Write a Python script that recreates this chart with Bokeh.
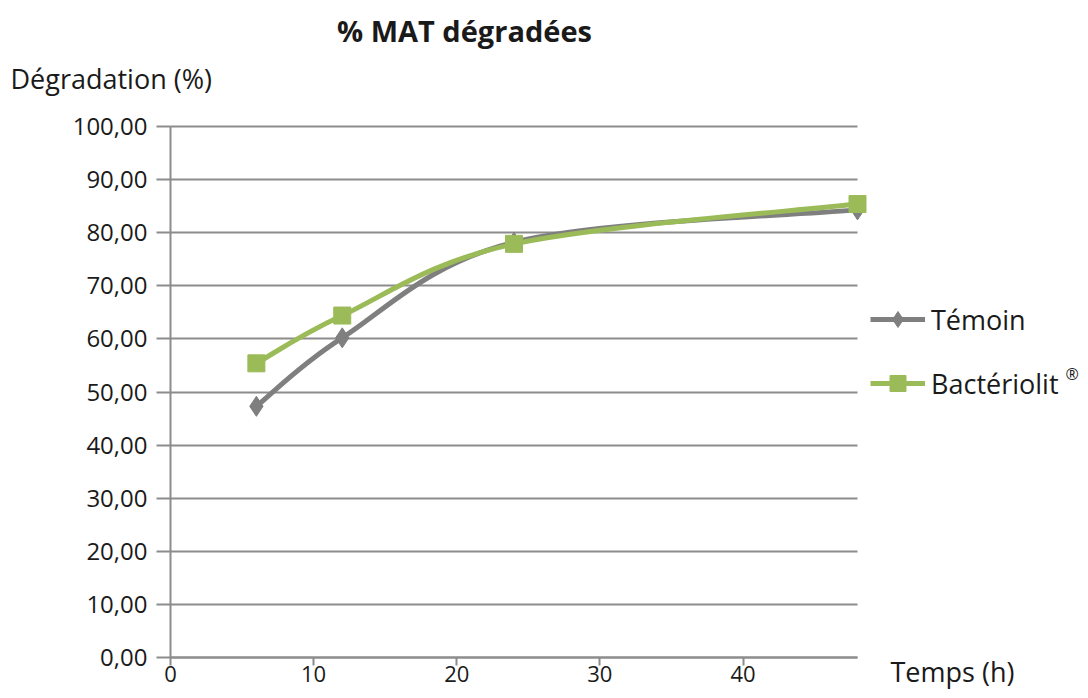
from bokeh.plotting import figure
from bokeh.models import Label, Legend, LegendItem, Range1d, FixedTicker
from bokeh.embed import file_html
from bokeh.resources import INLINE

# ---- data ----
hours = [6, 12, 24, 48]
temoin = [47.3, 60.2, 78.2, 84.3]
bacteriolit = [55.4, 64.4, 77.9, 85.4]
y_ticks = [0, 10, 20, 30, 40, 50, 60, 70, 80, 90, 100]
x_ticks = [0, 10, 20, 30, 40]
x_max = 48
y_max = 100
title_text = "% MAT dégradées"
y_title = "Dégradation (%)"
x_title = "Temps (h)"
series_names = ["Témoin", "Bactériolit"]

GRAY = "#7f7f7f"
GREEN = "#9bbb59"
GRID = "#8c8c8c"
TXT = "#1a1a1a"
FONT = "Open Sans"

# ---- layout (canvas pixels) ----
W, H = 1080, 690
PX_L, PX_R, PX_T, PX_B = 170, 857, 126, 657   # plot area edges
sx = (PX_R - PX_L) / x_max
sy = (PX_B - PX_T) / y_max
x0 = -PX_L / sx
y0 = -(H - PX_B) / sy

p = figure(width=W, height=H, output_backend="svg", toolbar_location=None,
           x_range=Range1d(x0, x0 + W / sx), y_range=Range1d(y0, y0 + H / sy),
           min_border=0)
p.outline_line_color = None

# axes placed inside the frame at 0
p.xaxis.ticker = FixedTicker(ticks=x_ticks)
p.yaxis.ticker = FixedTicker(ticks=y_ticks)
p.yaxis.major_label_overrides = {t: f"{t:.2f}".replace(".", ",") for t in y_ticks}
p.xaxis.fixed_location = 0
p.yaxis.fixed_location = 0
p.xaxis.bounds = (0, x_max)
p.yaxis.bounds = (0, y_max)
for ax in (p.xaxis[0], p.yaxis[0]):
    ax.axis_line_color = GRID
    ax.axis_line_width = 2
    ax.major_tick_line_color = GRID
    ax.major_tick_line_width = 2
    ax.minor_tick_line_color = None
    ax.major_tick_in = 0
    ax.major_label_text_font = FONT
    ax.major_label_text_font_size = "24px"
    ax.major_label_text_color = TXT
p.yaxis.major_tick_out = 14
p.yaxis.major_label_standoff = 9
p.xaxis.major_tick_out = 8
p.xaxis.major_label_standoff = 0
p.xaxis.major_label_text_font_size = "22px"

p.xgrid.grid_line_color = None
p.ygrid.ticker = FixedTicker(ticks=y_ticks)
p.ygrid.cross_bounds = (0, x_max)
p.ygrid.grid_line_color = GRID
p.ygrid.grid_line_width = 2

# smooth curves (Catmull-Rom style bezier segments, as Excel smoothing)
def bez(xs, ys):
    n = len(xs)
    out = dict(x0=[], y0=[], x1=[], y1=[], cx0=[], cy0=[], cx1=[], cy1=[])
    for i in range(n - 1):
        im = max(i - 1, 0)
        ip = min(i + 2, n - 1)
        out["x0"].append(xs[i]); out["y0"].append(ys[i])
        out["x1"].append(xs[i + 1]); out["y1"].append(ys[i + 1])
        out["cx0"].append(xs[i] + (xs[i + 1] - xs[im]) / 6)
        out["cy0"].append(ys[i] + (ys[i + 1] - ys[im]) / 6)
        out["cx1"].append(xs[i + 1] - (xs[ip] - xs[i]) / 6)
        out["cy1"].append(ys[i + 1] - (ys[ip] - ys[i]) / 6)
    return out

lt = p.bezier(line_color=GRAY, line_width=5, **bez(hours, temoin))
mt = p.scatter(hours, temoin, marker="diamond", size=20, fill_color=GRAY, line_color=GRAY)
lb = p.bezier(line_color=GREEN, line_width=5, **bez(hours, bacteriolit))
mb = p.scatter(hours, bacteriolit, marker="square", size=17, fill_color=GREEN, line_color=GREEN)

legend = Legend(items=[LegendItem(label=series_names[0], renderers=[lt, mt]),
                       LegendItem(label=series_names[1], renderers=[lb, mb])],
                location=(870, H - 403), orientation="vertical",
                background_fill_alpha=0, border_line_color=None,
                glyph_width=55, glyph_height=40, label_height=40, spacing=24,
                padding=0, margin=0, label_text_font=FONT, label_text_font_size="27px",
                label_text_color=TXT, label_standoff=6)
p.add_layout(legend)

def lab(text, cx, cy, size, bold=False, align="left"):
    p.add_layout(Label(x=cx, y=H - cy, x_units="screen", y_units="screen", text=text,
                       text_font=FONT, text_font_size=size, text_align=align,
                       text_baseline="middle", text_color=TXT,
                       text_font_style="bold" if bold else "normal"))

lab(title_text, 464, 30, "29px", bold=True, align="center")
lab(y_title, 10, 78, "27px")
lab(x_title, 890, 671, "27px")
lab("®", 1065, 373, "16px")

open("out.html", "w").write(file_html(p, INLINE))
